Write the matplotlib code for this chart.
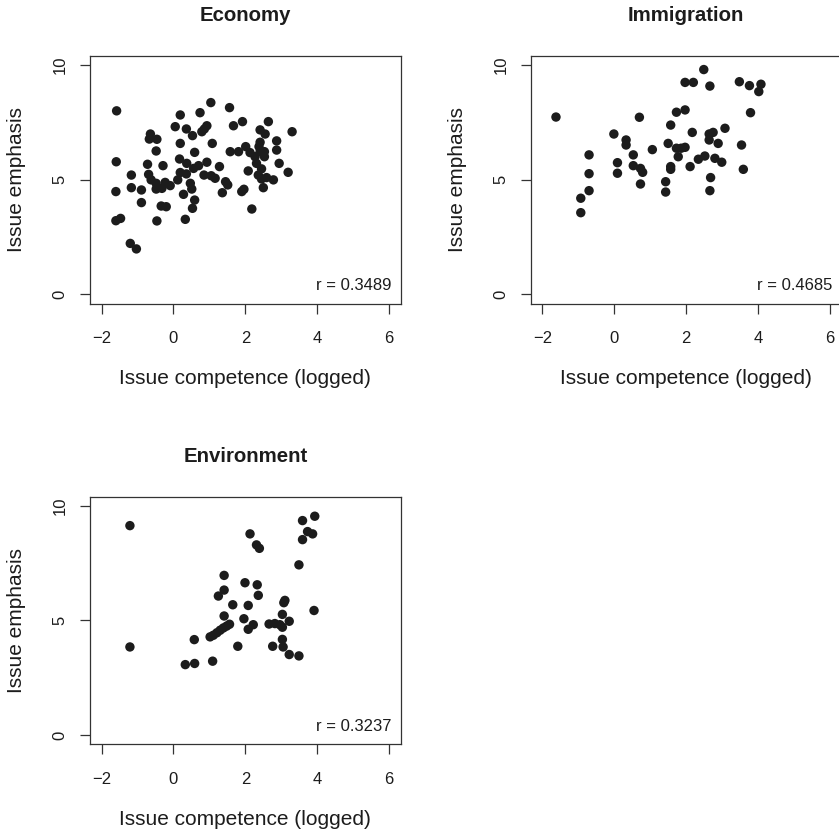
import matplotlib
matplotlib.use("Agg")
import matplotlib.pyplot as plt

plt.rcParams['font.family'] = ['Liberation Sans', 'DejaVu Sans']

# values
econ_x = [-1.58, -1.59, -1.60, -1.60, -1.47, -1.17, -1.17, -1.20, -1.03, -0.89,
          -0.89, -0.64, -0.67, -0.46, -0.48, -0.72, -0.69, -0.62, -0.48, -0.48,
          -0.46, -0.29, -0.32, -0.23, -0.09, -0.34, -0.20, 0.05, 0.19, 0.19,
          0.36, 0.53, 0.17, 0.37, 0.59, 0.56, 0.19, 0.12, 0.36, 0.47,
          0.51, 0.28, 0.59, 0.53, 0.33, 0.74, 1.04, 0.79, 0.86, 0.93,
          1.08, 0.70, 0.93, 0.85, 1.05, 1.16, 1.28, 1.45, 1.51, 1.36,
          1.56, 1.67, 1.92, 1.58, 1.81, 2.01, 2.13, 2.08, 1.90, 1.96,
          2.18, 2.41, 2.55, 2.64, 2.41, 2.38, 2.41, 2.53, 2.27, 2.53,
          2.31, 2.45, 2.36, 2.45, 2.59, 2.78, 2.50, 2.87, 2.87, 2.94,
          3.19, 3.30]
econ_y = [8.00, 5.78, 4.48, 3.21, 3.31, 5.20, 4.65, 2.22, 1.98, 4.55,
          4.00, 6.99, 6.77, 6.76, 6.25, 5.67, 5.23, 4.99, 4.84, 4.59,
          3.20, 5.61, 4.62, 4.88, 4.74, 3.85, 3.82, 7.31, 7.82, 6.58,
          7.21, 6.92, 5.90, 5.71, 6.19, 5.49, 5.31, 4.99, 5.25, 4.84,
          4.59, 4.36, 4.11, 3.75, 3.27, 7.92, 8.36, 7.09, 7.21, 7.35,
          6.58, 5.61, 5.76, 5.20, 5.17, 5.06, 5.57, 4.91, 4.77, 4.43,
          8.14, 7.35, 7.53, 6.22, 6.22, 6.44, 6.18, 5.38, 4.48, 4.58,
          3.72, 7.17, 6.99, 7.53, 6.63, 6.44, 6.22, 6.22, 6.00, 6.00,
          5.71, 5.47, 5.20, 5.03, 5.09, 4.99, 4.65, 6.69, 6.29, 5.71,
          5.32, 7.09]

immi_x = [-1.62, -0.93, -0.93, -0.70, -0.70, -0.70, -0.01, 0.09, 0.09, 0.33,
          0.33, 0.53, 0.53, 0.70, 0.73, 0.79, 0.73, 1.06, 1.43, 1.43,
          1.57, 1.50, 1.57, 1.57, 1.73, 1.97, 1.97, 2.20, 1.73, 1.86,
          1.97, 1.78, 2.11, 2.17, 2.34, 2.52, 2.49, 2.66, 2.64, 2.75,
          2.64, 2.89, 2.80, 2.99, 3.08, 2.68, 2.66, 3.48, 3.76, 4.08,
          4.02, 3.79, 3.54, 3.59]
immi_y = [7.73, 4.19, 3.56, 6.08, 5.26, 4.52, 6.99, 5.74, 5.28, 6.73,
          6.51, 6.08, 5.61, 7.72, 5.49, 5.32, 4.81, 6.31, 4.91, 4.46,
          7.38, 6.58, 5.57, 5.45, 7.94, 8.04, 9.24, 9.24, 6.37, 6.37,
          6.41, 6.00, 5.57, 7.06, 5.89, 6.03, 9.80, 9.08, 6.99, 7.06,
          6.73, 6.58, 5.93, 5.76, 7.24, 5.09, 4.52, 9.27, 9.10, 9.16,
          8.84, 7.92, 6.51, 5.45]

envi_x = [-1.21, -1.21, 0.33, 0.59, 0.58, 1.09, 1.02, 1.11, 1.21, 1.30,
          1.39, 1.48, 1.56, 1.41, 1.25, 1.41, 1.41, 1.65, 1.79, 1.99,
          1.96, 2.08, 2.13, 2.31, 2.39, 2.33, 2.36, 2.08, 2.22, 2.66,
          2.82, 2.96, 3.03, 3.03, 3.07, 3.10, 3.22, 3.03, 3.05, 2.76,
          3.22, 3.49, 3.49, 3.59, 3.59, 3.73, 3.87, 3.93, 3.91]
envi_y = [9.13, 3.84, 3.07, 3.12, 4.16, 3.22, 4.28, 4.35, 4.46, 4.57,
          4.67, 4.75, 4.83, 5.19, 6.06, 6.32, 6.96, 5.68, 3.87, 6.64,
          5.07, 5.65, 8.77, 8.29, 8.14, 6.55, 6.09, 4.61, 4.81, 4.84,
          4.86, 4.81, 4.70, 5.26, 5.77, 5.87, 4.96, 4.17, 3.84, 3.87,
          3.51, 3.45, 7.42, 8.52, 9.35, 8.87, 8.77, 9.54, 5.43]

titles = ["Economy", "Immigration", "Environment"]
r_labels = ["r = 0.3489", "r = 0.4685", "r = 0.3237"]
x_ticks = [-2, 0, 2, 4, 6]
y_ticks = [0, 5, 10]

W, H = 839, 832
fig = plt.figure(figsize=(W / 100, H / 100), dpi=100)
fig.patch.set_facecolor("white")

bw, bh = 310.7, 247.7
boxes = [(90, 303.5), (530.8, 303.5), (90, 744.2)]
data = [(econ_x, econ_y), (immi_x, immi_y), (envi_x, envi_y)]
ink = "#1c1c1c"

for i in range(3):
    left, bottom = boxes[i]
    ax = fig.add_axes([left / W, 1 - bottom / H, bw / W, bh / H])
    x, y = data[i]
    ax.scatter(x, y, s=46, color=ink, edgecolors="none", zorder=3)
    ax.set_xlim(-2.32, 6.32)
    ax.set_ylim(-0.4, 10.4)
    ax.set_xticks(x_ticks)
    ax.set_yticks(y_ticks)
    for sp in ax.spines.values():
        sp.set_linewidth(0.9)
        sp.set_color("#333333")
    ax.tick_params(axis="both", length=7.2, width=0.9, color="#333333",
                   labelsize=12, labelcolor=ink)
    ax.tick_params(axis="x", pad=12.5)
    ax.tick_params(axis="y", pad=9, labelrotation=90)
    for lab in ax.get_yticklabels():
        lab.set_verticalalignment("center")
    ax.text(0.5, 1 + 34.5 / bh, titles[i], transform=ax.transAxes,
            ha="center", va="baseline", fontsize=14.7, fontweight="bold", color=ink)
    ax.text(1 - 9 / bw, 13.5 / bh, r_labels[i], transform=ax.transAxes,
            ha="right", va="baseline", fontsize=12, color=ink)
    ax.text(0.5, -80.5 / bh, "Issue competence (logged)", transform=ax.transAxes,
            ha="center", va="baseline", fontsize=15, color=ink)
    ax.text(-73 / bw, 0.5, "Issue emphasis", transform=ax.transAxes,
            ha="center", va="center", rotation=90, fontsize=15, color=ink)

fig.savefig("out.png", dpi=100)
